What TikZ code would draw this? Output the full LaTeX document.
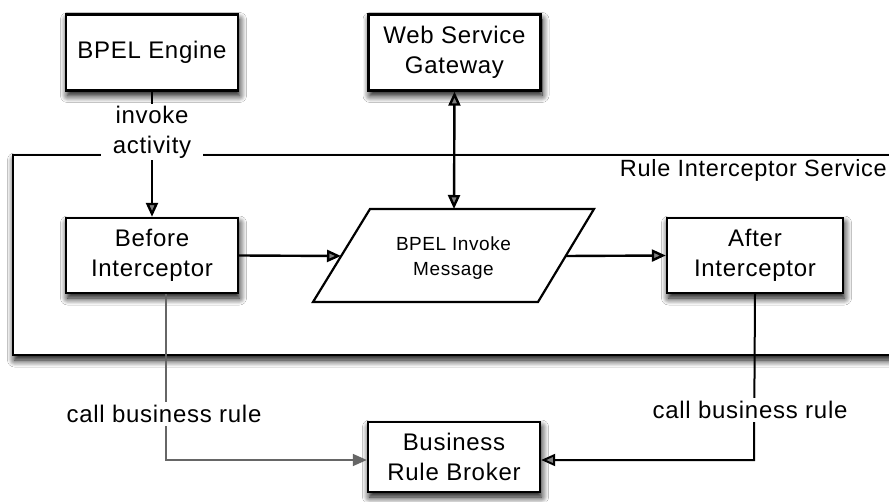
\documentclass[tikz,border=0pt]{standalone}
\usepackage{fontspec}
\setmainfont{Liberation Sans}[LetterSpace=3]
\usetikzlibrary{shadows.blur,arrows.meta}
\begin{document}
\begin{tikzpicture}[x=1pt,y=-1pt,
  shad/.style={blur shadow={shadow xshift=1.5pt, shadow yshift=-5pt, shadow blur radius=7pt, shadow opacity=100, shadow blur steps=10}},
  box/.style={draw=black, line width=2.4pt, fill=white, minimum width=172pt, minimum height=76pt,
    align=center, inner sep=0pt, font=\fontsize{24}{30}\selectfont, shad},
  lbl/.style={fill=white, align=center, inner sep=3pt, font=\fontsize{24}{30}\selectfont},
  arr/.style={line width=2.4pt, -{Triangle[length=14pt,width=12pt]}},
  darr/.style={line width=2.4pt, {Triangle[length=14pt,width=12pt]}-{Triangle[length=14pt,width=12pt]}},
  thin/.style={draw=black!60, line width=1.5pt}
]
\useasboundingbox (0,0) rectangle (889,502);
\clip (0,0) rectangle (889,502);
\fill[white] (0,0) rectangle (889,502);

% container
\draw[line width=2.4pt, fill=white, shad] (13,155) rectangle (910,355);
\node[anchor=east, font=\fontsize{23.5}{30}\selectfont, inner sep=0pt] (ris) at (887,170) {Rule Interceptor Service};

% nodes
\node[box] (engine) at (152,52.5) {BPEL Engine};
\node[box] (gw) at (454.5,52.5) {Web Service\\Gateway};
\node[box, minimum height=75pt] (before) at (152,255.5) {Before\\Interceptor};
\node[box, minimum width=176pt, minimum height=75pt] (after) at (755,255.5) {After\\Interceptor};
\node[box, minimum height=70pt] (brb) at (454,457) {Business\\Rule Broker};

% parallelogram
\coordinate (pbl) at (313,302);
\coordinate (ptl) at (370,209);
\coordinate (ptr) at (594,209);
\coordinate (pbr) at (538,302);
\draw[line width=2.2pt, fill=white, line join=miter] (pbl) -- (ptl) -- (ptr) -- (pbr) -- cycle;
\node[align=center, font=\fontsize{19}{25}\selectfont, inner sep=0pt] (bim) at (453.5,258) {BPEL Invoke\\Message};
\coordinate (bimw) at (341,256);
\coordinate (bime) at (566,256);
\coordinate (bimn) at (454,209);

% connectors
\draw[arr] (engine.south) -- (before.north);
\node[lbl, inner sep=2pt, minimum width=102pt, minimum height=56pt] (invoke) at (152,132) {invoke\\activity};
\draw[arr] (before.east) -- (bimw);
\draw[arr] (bime) -- (after.west);
\draw[darr] (gw.south) -- (bimn);

\coordinate (lc) at (166,460);
\coordinate (rc) at (754,460);
\draw[thin, -{Triangle[length=14pt,width=12pt]}] ([xshift=14pt]before.south) -- (lc) -- (lc -| brb.west);
\draw[line width=2pt, -{Triangle[length=14pt,width=12pt]}] (after.south) -- (rc) -- (rc -| brb.east);
\node[lbl] (cbl) at (164,414) {call business rule};
\node[lbl] (cbr) at (750,410) {call business rule};
\end{tikzpicture}
\end{document}
